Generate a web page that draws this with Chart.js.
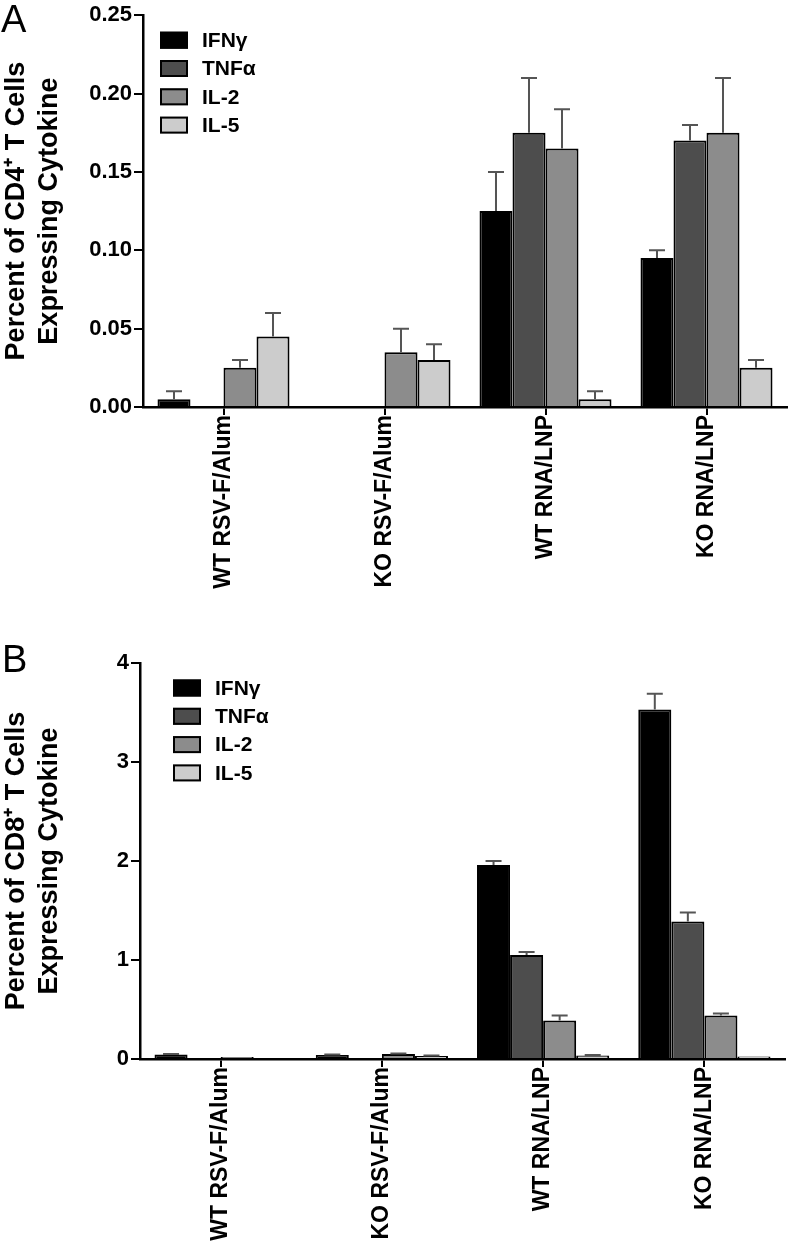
<!DOCTYPE html>
<html>
<head>
<meta charset="utf-8">
<script src="https://cdn.jsdelivr.net/npm/chart.js@4.4.1/dist/chart.umd.min.js"></script>
<style>
  body { margin: 0; background: #fff; width: 789px; height: 1244px; position: relative; overflow: hidden; }
  .panel { position: absolute; left: 0; width: 789px; }
  .letter { position: absolute; font-family: "Liberation Sans", Arial, sans-serif; font-size: 38px; line-height: 38px; color: #000; }
</style>
</head>
<body>
<div class="panel" style="top:0;height:610px"><canvas id="chartA"></canvas></div>
<div class="panel" style="top:610px;height:634px"><canvas id="chartB"></canvas></div>
<div class="letter" style="left:1px;top:0px">A</div>
<div class="letter" style="left:2px;top:640px">B</div>
<script>
// groups and cytokines
const groups = ['WT RSV-F/Alum', 'KO RSV-F/Alum', 'WT RNA/LNP', 'KO RNA/LNP'];
const cytokines = ['IFN\u03b3', 'TNF\u03b1', 'IL-2', 'IL-5'];
const colors = ['#000000', '#4d4d4d', '#8c8c8c', '#cccccc'];

// panel A, CD4+ (mean and top of error bar)
const cd4_ifng = [0.005, 0, 0.125, 0.095];
const cd4_tnfa = [0, 0, 0.175, 0.170];
const cd4_il2  = [0.025, 0.035, 0.165, 0.175];
const cd4_il5  = [0.045, 0.030, 0.005, 0.025];
const cd4_ifng_err = [0.010, 0, 0.150, 0.100];
const cd4_tnfa_err = [0, 0, 0.210, 0.180];
const cd4_il2_err  = [0.030, 0.050, 0.190, 0.210];
const cd4_il5_err  = [0.060, 0.040, 0.010, 0.030];
const cd4_ticks = [0, 0.05, 0.10, 0.15, 0.20, 0.25];

// panel B, CD8+
const cd8_ifng = [0.045, 0.04, 1.96, 3.53];
const cd8_tnfa = [0, 0, 1.05, 1.39];
const cd8_il2  = [0.02, 0.05, 0.39, 0.44];
const cd8_il5  = [0, 0.03, 0.035, 0.025];
const cd8_ifng_err = [0.05, 0.045, 2.00, 3.69];
const cd8_tnfa_err = [0, 0, 1.08, 1.48];
const cd8_il2_err  = [0.02, 0.055, 0.44, 0.46];
const cd8_il5_err  = [0, 0.035, 0.04, 0.025];
const cd8_ticks = [0, 1, 2, 3, 4];

const FONT = '"Liberation Sans", Arial, sans-serif';

// upper error bars drawn off the bar elements and the y scale
const errorBars = {
  id: 'errorBars',
  afterDatasetsDraw(chart) {
    const ctx = chart.ctx;
    const y = chart.scales.y;
    ctx.save();
    ctx.strokeStyle = '#555';
    ctx.lineWidth = 2;
    chart.data.datasets.forEach((ds, i) => {
      const meta = chart.getDatasetMeta(i);
      meta.data.forEach((bar, j) => {
        const top = ds.errTop[j];
        if (top == null || top <= ds.data[j]) return;
        const yt = y.getPixelForValue(top);
        ctx.beginPath();
        ctx.moveTo(bar.x, bar.y);
        ctx.lineTo(bar.x, yt);
        ctx.moveTo(bar.x - 8, yt);
        ctx.lineTo(bar.x + 8, yt);
        ctx.stroke();
      });
    });
    ctx.restore();
  }
};

// legend inside the plot, top-left
const boxLegend = {
  id: 'boxLegend',
  afterDraw(chart, args, opts) {
    const ctx = chart.ctx;
    const a = chart.chartArea;
    ctx.save();
    ctx.font = 'bold 21px ' + FONT;
    ctx.textBaseline = 'middle';
    chart.data.datasets.forEach((ds, i) => {
      const cy = a.top + opts.dy + i * opts.row;
      const x = a.left + opts.dx;
      ctx.fillStyle = ds.backgroundColor;
      ctx.fillRect(x, cy - 8.5, 28, 17);
      ctx.strokeStyle = '#000';
      ctx.lineWidth = 2;
      ctx.strokeRect(x + 1, cy - 7.5, 26, 15);
      ctx.fillStyle = '#000';
      ctx.fillText(ds.label, x + 42, cy + 1);
    });
    ctx.restore();
  }
};

function makeChart(id, series, errs, ticks, title, yWidth, xHeight, padTop, padRight, legendDx, fmt) {
  const datasets = cytokines.map((c, i) => ({
    label: c,
    data: series[i],
    errTop: errs[i],
    backgroundColor: colors[i],
    borderColor: '#000',
    borderWidth: 2,
    categoryPercentage: 0.82,
    barPercentage: 1.0
  }));
  return new Chart(document.getElementById(id), {
    type: 'bar',
    data: { labels: groups, datasets: datasets },
    plugins: [errorBars, boxLegend],
    options: {
      responsive: true,
      maintainAspectRatio: false,
      animation: false,
      layout: { padding: { top: padTop, right: padRight, left: 0, bottom: 0 } },
      plugins: {
        legend: { display: false },
        tooltip: { enabled: false },
        boxLegend: { dx: legendDx, dy: 25, row: 28.3 }
      },
      scales: {
        x: {
          afterFit: s => { s.height = xHeight; },
          grid: { offset: false, drawOnChartArea: false, drawTicks: true, tickLength: 8, color: '#000', lineWidth: 2 },
          border: { display: true, color: '#000', width: 2.5 },
          ticks: { color: '#000', minRotation: 90, maxRotation: 90, padding: 0, font: { family: FONT, size: 23, weight: 'bold' } }
        },
        y: {
          min: ticks[0],
          max: ticks[ticks.length - 1],
          afterFit: s => { s.width = yWidth; },
          afterBuildTicks: s => { s.ticks = ticks.map(v => ({ value: v })); },
          grid: { drawOnChartArea: false, drawTicks: true, tickLength: 9, color: '#000', lineWidth: 2 },
          border: { display: true, color: '#000', width: 2.5 },
          ticks: { color: '#000', padding: 2, font: { family: FONT, size: 22, weight: 'bold' }, callback: v => fmt(v) },
          title: {
            display: true,
            text: title,
            color: '#000',
            font: { family: FONT, size: 27, weight: 'bold', lineHeight: 1.22 },
            padding: { top: 0, bottom: 2 }
          }
        }
      }
    }
  });
}

makeChart('chartA',
  [cd4_ifng, cd4_tnfa, cd4_il2, cd4_il5],
  [cd4_ifng_err, cd4_tnfa_err, cd4_il2_err, cd4_il5_err],
  cd4_ticks, ['Percent of CD4\u207a T Cells', 'Expressing Cytokine'],
  143, 203, 12, 2, 17, v => v.toFixed(2));

makeChart('chartB',
  [cd8_ifng, cd8_tnfa, cd8_il2, cd8_il5],
  [cd8_ifng_err, cd8_tnfa_err, cd8_il2_err, cd8_il5_err],
  cd8_ticks, ['Percent of CD8\u207a T Cells', 'Expressing Cytokine'],
  140, 185, 53, 4, 33, v => String(v));
</script>
</body>
</html>
